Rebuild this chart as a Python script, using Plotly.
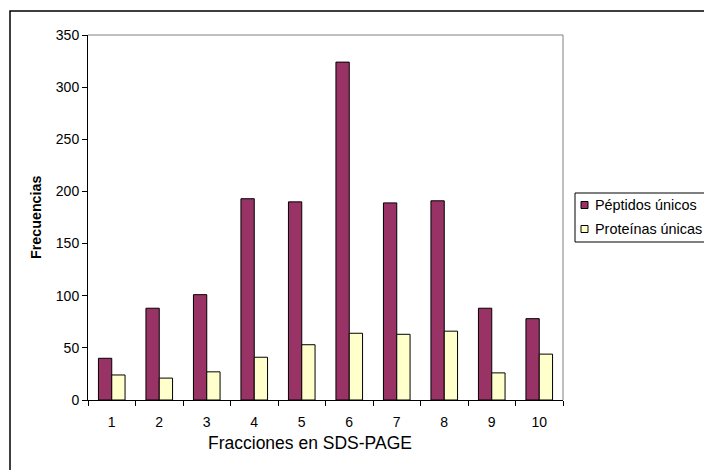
import plotly.graph_objects as go

# Fractions of the SDS-PAGE gel and the counts found in each
fracciones = ["1", "2", "3", "4", "5", "6", "7", "8", "9", "10"]
peptidos_unicos = [40, 88, 101, 193, 190, 324, 189, 191, 88, 78]
proteinas_unicas = [24, 21, 27, 41, 53, 64, 63, 66, 26, 44]
serie_nombres = ["Péptidos únicos", "Proteínas únicas"]
serie_colores = ["#993366", "#FFFFCC"]

W, H = 704, 470
L, R, T, B = 88, 563, 35, 400  # plot area in pixels


def px_x(x):
    return (x - L) / (R - L)


def px_y(y):
    return (B - y) / (B - T)


FONT = "Liberation Sans, Arial, sans-serif"

fig = go.Figure()
for nombre, valores, color in zip(serie_nombres, [peptidos_unicos, proteinas_unicas], serie_colores):
    fig.add_trace(go.Bar(
        x=fracciones, y=valores, name=nombre,
        marker=dict(color=color, line=dict(color="#000000", width=1)),
        showlegend=False,
    ))

fig.update_layout(
    width=W, height=H,
    margin=dict(l=L, r=W - R, t=T, b=H - B),
    paper_bgcolor="white", plot_bgcolor="white",
    barmode="group", bargap=0.44, bargroupgap=0,
    font=dict(family=FONT, size=14, color="#000000"),
    xaxis=dict(
        type="category", showgrid=False, showline=True, linecolor="#000000", linewidth=1,
        ticks="outside", tickson="boundaries", ticklen=5, tickcolor="#000000",
        tickfont=dict(size=14), mirror=False, ticklabelstandoff=9,
    ),
    yaxis=dict(
        range=[0, 350], dtick=50, showgrid=False, showline=True, linecolor="#000000",
        linewidth=1, ticks="outside", ticklen=5, tickcolor="#000000",
        tickfont=dict(size=14), zeroline=False,
    ),
)

shapes = []
# plot area frame (top and right edges in grey)
shapes.append(dict(type="line", xref="paper", yref="paper", x0=0, x1=1, y0=1, y1=1,
                   line=dict(color="#808080", width=1)))
shapes.append(dict(type="line", xref="paper", yref="paper", x0=1, x1=1, y0=0, y1=1,
                   line=dict(color="#808080", width=1)))
# chart area border
shapes.append(dict(type="rect", xref="paper", yref="paper",
                   x0=px_x(10), x1=px_x(W + 10), y0=px_y(H + 10), y1=px_y(11),
                   line=dict(color="#000000", width=1.5), fillcolor="rgba(0,0,0,0)"))
# legend box
shapes.append(dict(type="rect", xref="paper", yref="paper",
                   x0=px_x(575), x1=px_x(W + 10), y0=px_y(242), y1=px_y(193),
                   line=dict(color="#000000", width=1), fillcolor="white"))

annotations = []
filas = [205, 229]
for nombre, color, yc in zip(serie_nombres, serie_colores, filas):
    shapes.append(dict(type="rect", xref="paper", yref="paper",
                       x0=px_x(581), x1=px_x(588), y0=px_y(yc + 3.5), y1=px_y(yc - 3.5),
                       line=dict(color="#000000", width=1), fillcolor=color))
    annotations.append(dict(text=nombre, xref="paper", yref="paper", x=px_x(593), y=px_y(yc),
                            xanchor="left", yanchor="middle", showarrow=False,
                            font=dict(size=14.4, family=FONT)))

# axis titles
annotations.append(dict(text="Fracciones en SDS-PAGE", xref="paper", yref="paper",
                        x=px_x(310), y=px_y(443), xanchor="center", yanchor="middle",
                        showarrow=False, font=dict(size=17.5, family=FONT)))
annotations.append(dict(text="<b>Frecuencias</b>", xref="paper", yref="paper",
                        x=px_x(36), y=px_y(218), xanchor="center", yanchor="middle",
                        textangle=-90, showarrow=False, font=dict(size=14.3, family=FONT)))

fig.update_layout(shapes=shapes, annotations=annotations)

fig.write_html("out.html")
